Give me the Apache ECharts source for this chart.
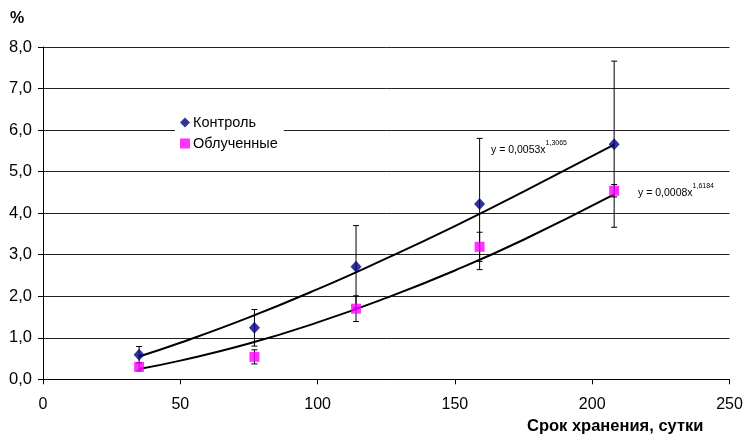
<!DOCTYPE html>
<html>
<head>
<meta charset="utf-8">
<script src="https://cdn.jsdelivr.net/npm/echarts@6/dist/echarts.min.js"></script>
<style>
html,body{margin:0;padding:0;background:#fff;}
#chart{width:746px;height:436px;}
</style>
</head>
<body>
<div id="chart"></div>
<script>
// ---- data ----
const days = [35, 77, 114, 159, 208];
const controlValues = [0.59, 1.24, 2.71, 4.22, 5.66];
const controlErrors = [0.20, 0.44, 0.99, 1.58, 2.00];
const irradiatedValues = [0.30, 0.54, 1.70, 3.19, 4.54];
const irradiatedErrors = [0.10, 0.17, 0.31, 0.35, 0.15];

// trend curves
const trendDays = [35, 50, 75, 100, 125, 150, 175, 208];
const controlTrend = [0.55, 0.88, 1.49, 2.17, 2.91, 3.69, 4.52, 5.65];
const irradiatedTrend = [0.25, 0.45, 0.86, 1.37, 1.96, 2.62, 3.36, 4.45];

const seriesNames = ['Контроль', 'Облученные'];
const yTicks = [0, 1, 2, 3, 4, 5, 6, 7, 8];
const xTicks = [0, 50, 100, 150, 200, 250];
const eq1 = {base: 'y = 0,0053x', exp: '1,3065'};
const eq2 = {base: 'y = 0,0008x', exp: '1,6184'};

const FONT = 'Liberation Sans, Arial, sans-serif';

function pairs(xs, ys) { return xs.map((x, i) => [x, ys[i]]); }
function errData(xs, ys, es) { return xs.map((x, i) => [x, ys[i] - es[i], ys[i] + es[i]]); }

function errRender(params, api) {
  const x = api.value(0), lo = api.value(1), hi = api.value(2);
  const a = api.coord([x, hi]), b = api.coord([x, lo]);
  const w = 3;
  const st = {stroke: '#000', lineWidth: 1};
  return {
    type: 'group',
    children: [
      {type: 'line', shape: {x1: a[0], y1: a[1], x2: b[0], y2: b[1]}, style: st},
      {type: 'line', shape: {x1: a[0] - w, y1: a[1], x2: a[0] + w, y2: a[1]}, style: st},
      {type: 'line', shape: {x1: b[0] - w, y1: b[1], x2: b[0] + w, y2: b[1]}, style: st}
    ]
  };
}

const chart = echarts.init(document.getElementById('chart'), null, {renderer: 'canvas'});

function eqText(eq, left, top) {
  return {
    type: 'text', left: left, top: top, z: 100,
    style: {
      rich: {
        b: {fontSize: 10.5, fontFamily: FONT, fill: '#000', verticalAlign: 'bottom', lineHeight: 16},
        s: {fontSize: 7, fontFamily: FONT, fill: '#000', verticalAlign: 'top', lineHeight: 16}
      },
      text: '{b|' + eq.base + '}{s|' + eq.exp + '}'
    }
  };
}

chart.setOption({
  animation: false,
  backgroundColor: '#fff',
  textStyle: {fontFamily: FONT},
  grid: {left: 43, right: 16.5, top: 47, bottom: 56.7, containLabel: false},
  legend: {
    data: [
      {name: seriesNames[0], icon: 'diamond'},
      {name: seriesNames[1], icon: 'rect'}
    ],
    orient: 'vertical',
    left: 175, top: 111,
    backgroundColor: '#fff',
    padding: [4, 6, 4, 5],
    itemWidth: 10, itemHeight: 10, itemGap: 6,
    textStyle: {fontSize: 14.5, color: '#000', fontFamily: FONT, padding: [0, 0, 0, -2]}
  },
  xAxis: {
    type: 'value', min: 0, max: 250, interval: 50,
    axisLine: {show: true, lineStyle: {color: '#000', width: 1}},
    axisTick: {show: true, length: 5, lineStyle: {color: '#000'}},
    axisLabel: {fontSize: 16, color: '#000', margin: 17, fontFamily: FONT},
    splitLine: {show: false}
  },
  yAxis: {
    type: 'value', min: 0, max: 8, interval: 1,
    axisLine: {show: true, lineStyle: {color: '#000', width: 1}},
    axisTick: {show: true, length: 5, lineStyle: {color: '#000'}},
    axisLabel: {fontSize: 16.5, color: '#000', margin: 11, fontFamily: FONT,
      formatter: v => v.toFixed(1).replace('.', ',')},
    splitLine: {show: true, lineStyle: {color: '#222', width: 1}}
  },
  graphic: [
    {type: 'text', left: 10, top: 11, style: {text: '%', fontSize: 16, fontWeight: 'bold', fill: '#000', fontFamily: FONT}},
    {type: 'text', left: 527, top: 418, style: {text: 'Срок хранения, сутки', fontSize: 16.5, fontWeight: 'bold', fill: '#000', fontFamily: FONT}},
    eqText(eq1, 491, 140),
    eqText(eq2, 638, 183)
  ],
  series: [
    {type: 'line', name: 'trend1', data: pairs(trendDays, controlTrend), smooth: true, showSymbol: false,
      lineStyle: {color: '#000', width: 2}, z: 3, silent: true},
    {type: 'line', name: 'trend2', data: pairs(trendDays, irradiatedTrend), smooth: true, showSymbol: false,
      lineStyle: {color: '#000', width: 2}, z: 3, silent: true},
    {type: 'custom', name: 'err1', renderItem: errRender, data: errData(days, controlValues, controlErrors),
      encode: {x: 0, y: [1, 2]}, z: 4},
    {type: 'custom', name: 'err2', renderItem: errRender, data: errData(days, irradiatedValues, irradiatedErrors),
      encode: {x: 0, y: [1, 2]}, z: 4},
    {type: 'scatter', name: seriesNames[0], data: pairs(days, controlValues), symbol: 'diamond', symbolSize: [11, 12],
      itemStyle: {color: '#000080'}, z: 5},
    {type: 'scatter', name: seriesNames[1], data: pairs(days, irradiatedValues), symbol: 'rect', symbolSize: 10,
      itemStyle: {color: '#FF00FF'}, z: 5}
  ]
});
</script>
</body>
</html>
